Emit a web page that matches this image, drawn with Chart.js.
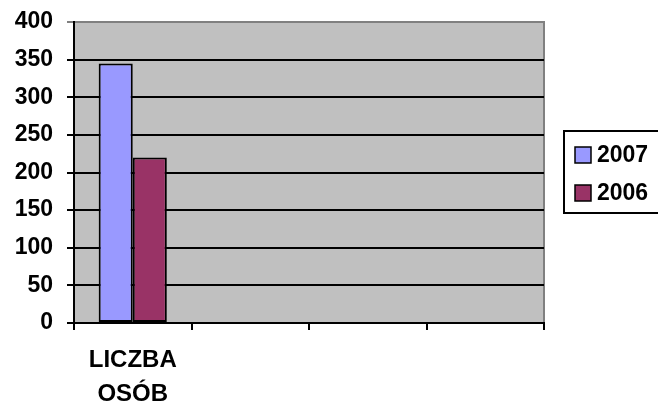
<!DOCTYPE html>
<html><head><meta charset="utf-8">
<script src="https://cdn.jsdelivr.net/npm/chart.js@4/dist/chart.umd.min.js"></script>
<style>html,body{margin:0;padding:0;background:#fff;}canvas{display:block;}</style>
</head><body>
<canvas id="c" width="658" height="407"></canvas>
<script>
const categories = [["LICZBA", "OSÓB"], "", "", ""];
const series2007 = [345, null, null, null];
const series2006 = [220, null, null, null];
const seriesLabels = ["2007", "2006"];
const yTicks = [0, 50, 100, 150, 200, 250, 300, 350, 400];

const FONT = "'Liberation Sans', Arial, sans-serif";

const plotBg = {
  id: 'plotBg',
  beforeDraw(chart) {
    const a = chart.chartArea, ctx = chart.ctx;
    ctx.save();
    ctx.fillStyle = '#c0c0c0';
    ctx.fillRect(a.left, a.top, a.right - a.left, a.bottom - a.top);
    ctx.strokeStyle = '#808080';
    ctx.lineWidth = 2;
    ctx.beginPath();
    ctx.moveTo(a.left, a.top); ctx.lineTo(a.right, a.top); ctx.lineTo(a.right, a.bottom);
    ctx.stroke();
    ctx.restore();
  }
};

const customLegend = {
  id: 'customLegend',
  afterDraw(chart) {
    const ctx = chart.ctx;
    ctx.save();
    ctx.fillStyle = '#fff';
    ctx.fillRect(564, 131, 110, 82);
    ctx.strokeStyle = '#000';
    ctx.lineWidth = 2;
    ctx.strokeRect(564, 131, 110, 82);
    ctx.font = "bold 23px " + FONT;
    ctx.textBaseline = 'middle';
    chart.data.datasets.forEach((ds, i) => {
      const y = 155 + i * 38;
      ctx.fillStyle = ds.backgroundColor;
      ctx.fillRect(575, y - 8, 16, 16);
      ctx.lineWidth = 1.5;
      ctx.strokeStyle = '#000';
      ctx.strokeRect(575, y - 8, 16, 16);
      ctx.fillStyle = '#000';
      ctx.fillText(ds.label, 597, y + 1);
    });
    ctx.restore();
  }
};

new Chart(document.getElementById('c'), {
  type: 'bar',
  data: {
    labels: categories,
    datasets: [
      { label: seriesLabels[0], data: series2007, backgroundColor: '#9999ff', borderColor: '#000', borderWidth: 2, borderSkipped: false },
      { label: seriesLabels[1], data: series2006, backgroundColor: '#993366', borderColor: '#000', borderWidth: 2, borderSkipped: false }
    ]
  },
  options: {
    responsive: false,
    animation: false,
    devicePixelRatio: 1,
    layout: { padding: { left: 0, right: 114, top: 22, bottom: 0 } },
    datasets: { bar: { categoryPercentage: 0.58, barPercentage: 1.0 } },
    plugins: { legend: { display: false }, tooltip: { enabled: false } },
    scales: {
      x: {
        offset: true,
        grid: { offset: true, drawOnChartArea: false, color: '#000', lineWidth: 2, tickLength: 7, drawTicks: true },
        border: { display: true, color: '#000', width: 2 },
        ticks: { color: '#000', font: { family: FONT, size: 24, weight: 'bold', lineHeight: 1.4 }, padding: 14, maxRotation: 0, autoSkip: false },
        afterFit(s) { s.height = 407 - 323; }
      },
      y: {
        min: 0, max: 400,
        afterBuildTicks(s) { s.ticks = yTicks.map(v => ({ value: v })); },
        grid: { color: ctx => ctx.tick && ctx.tick.value === 400 ? '#808080' : '#000', lineWidth: 2, tickLength: 7 },
        border: { display: true, color: '#000', width: 2 },
        ticks: { color: '#000', font: { family: FONT, size: 23, weight: 'bold', lineHeight: 0.6 }, padding: 14 },
        afterFit(s) { s.width = 74; }
      }
    }
  },
  plugins: [plotBg, customLegend]
});
</script>
</body></html>
